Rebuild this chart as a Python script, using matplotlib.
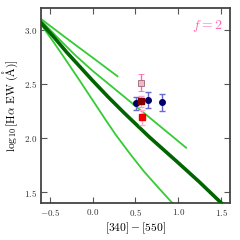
import matplotlib
matplotlib.use("Agg")
import matplotlib.pyplot as plt
from matplotlib.ticker import FuncFormatter

plt.rcParams['mathtext.fontset'] = 'cm'
plt.rcParams['font.family'] = 'serif'
plt.rcParams['font.serif'] = ['cmr10', 'DejaVu Serif']
plt.rcParams['axes.formatter.use_mathtext'] = True

# Model tracks
line_a_x = [-0.62, -0.32, 0.02, 0.29]
line_a_y = [3.11, 2.93, 2.73, 2.57]
line_b_x = [-0.62, -0.40, -0.21, 0.0, 0.37, 0.83, 1.09]
line_b_y = [3.10, 2.92, 2.77, 2.62, 2.38, 2.08, 1.91]
line_c_x = [-0.62, -0.45, -0.32, -0.15, 0.0, 0.15, 0.27, 0.45, 0.6, 0.78, 0.93]
line_c_y = [3.07, 2.88, 2.73, 2.53, 2.35, 2.17, 2.03, 1.84, 1.69, 1.53, 1.40]
thick_x = [-0.62, -0.45, -0.30, -0.15, 0.0, 0.18, 0.37, 0.66, 1.0, 1.25, 1.5]
thick_y = [3.08, 2.93, 2.79, 2.66, 2.53, 2.38, 2.23, 2.01, 1.77, 1.59, 1.40]

# Observed points
navy_x = [0.51, 0.65, 0.81]
navy_y = [2.32, 2.35, 2.33]
navy_err = [0.06, 0.07, 0.08]
pink_x = [0.56]
pink_y = [2.51]
pink_err = [0.08]
maroon_x = [0.57]
maroon_y = [2.34]
maroon_err = [0.05]
red_x = [0.58]
red_y = [2.19]
red_err = [0.07]

xticks = [-0.5, 0.0, 0.5, 1.0, 1.5]
yticks = [1.5, 2.0, 2.5, 3.0]

fig = plt.figure(figsize=(2.4, 2.4), dpi=100)
ax = fig.add_axes([0.171, 0.154, 0.787, 0.813])

light = '#33cc33'
for xs, ys in [(line_a_x, line_a_y), (line_b_x, line_b_y), (line_c_x, line_c_y)]:
    ax.plot(xs, ys, color=light, lw=1.3, zorder=2)
ax.plot(thick_x, thick_y, color='#006400', lw=2.6, zorder=3)

ax.errorbar(navy_x, navy_y, yerr=navy_err, fmt='o', color='#000066', ms=4,
            ecolor='#6a6acd', elinewidth=1.0, capsize=2.5, zorder=5)
ax.errorbar(pink_x, pink_y, yerr=pink_err, fmt='s', mfc='#f4b8c4', mec='#996677',
            ms=4, mew=0.6, ecolor='#ff69b4', elinewidth=1.0, capsize=2.5, zorder=5)
ax.errorbar(maroon_x, maroon_y, yerr=maroon_err, fmt='s', mfc='#800000', mec='#800000',
            ms=4, ecolor='#ff9ec8', elinewidth=1.0, capsize=2.5, zorder=6)
ax.errorbar(red_x, red_y, yerr=red_err, fmt='s', mfc='#ee0000', mec='#ee0000',
            ms=4, ecolor='#ffb0d0', elinewidth=1.0, capsize=2.5, zorder=6)

ax.set_xlim(-0.6, 1.6)
ax.set_ylim(1.4, 3.2)
ax.set_xticks(xticks)
ax.set_yticks(yticks)
fmt = FuncFormatter(lambda v, p: r'$%.1f$' % v)
ax.xaxis.set_major_formatter(fmt)
ax.yaxis.set_major_formatter(fmt)
ax.tick_params(direction='in', top=True, right=True, length=4, width=0.8,
               color='#555555', labelsize=6.5, labelcolor='#333333', pad=3)
for s in ax.spines.values():
    s.set_color('#444444')
    s.set_linewidth(1.3)

ax.set_xlabel(r'$[340]-[550]$', fontsize=8.3, labelpad=2)
ax.set_ylabel(r'$\log_{10}[\mathrm{H}\alpha\ \mathrm{EW}\ (\mathrm{\AA})]$', fontsize=8.3, labelpad=3)
ax.text(0.965, 0.905, r'$f=2$', color='#ff69b4', fontsize=10, ha='right', va='center',
        transform=ax.transAxes)

fig.savefig('out.png', dpi=100)
